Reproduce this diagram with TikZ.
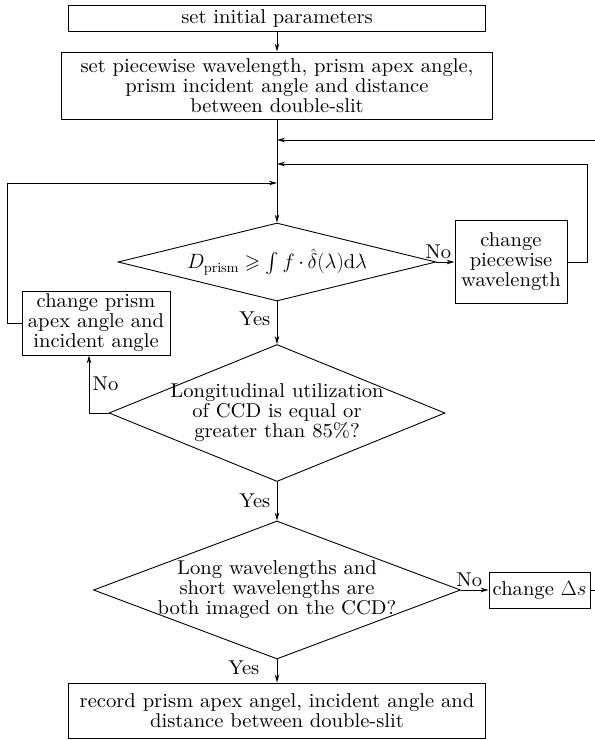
\documentclass[tikz,border=0pt]{standalone}
\usepackage{amsmath}
\usepackage{amssymb}
\usepackage{fontspec}
\setmainfont{lmroman10-regular.otf}[FakeStretch=1.03]
\usepackage{tikz}
\usetikzlibrary{arrows.meta,shapes.geometric,positioning}

\begin{document}
\begin{tikzpicture}
[
x=1pt, y=-1pt,
every node/.style={font=\fontsize{20}{20}\selectfont},
>={Stealth[length=8pt,width=4.5pt]},
proc/.style={rectangle, draw=black, line width=1pt, align=center, inner sep=2pt},
decide/.style={diamond, draw=black, line width=0.9pt, align=center, inner xsep=-25pt, inner ysep=-10pt},
flow/.style={line width=0.8pt}
]
\useasboundingbox (0,0) rectangle (595,740);
\clip (0,0) rectangle (595,740);

%Nodes
\node[proc, minimum width=417pt, minimum height=26pt] (init) at (277,18) {set initial parameters};
\node[proc, minimum width=431pt, minimum height=67pt] (setp) [below of=init, node distance=67.5pt] {set piecewise wavelength, prism apex angle,\\ prism incident angle and distance\\ between double-slit};
\node[decide, shape aspect=4.08, minimum width=318pt, minimum height=78pt] (cond1) [below of=setp, node distance=176.5pt] {$D_{\mathrm{prism}}\geqslant\int f\,{\cdot}\,\hat{\delta}(\lambda)\mathrm{d}\lambda$};
\node[proc, minimum width=112pt, minimum height=83pt] (chwave) [right of=cond1, node distance=234pt] {change\\ piecewise\\ wavelength};
\node[proc, minimum width=148pt, minimum height=64pt] (chprism) [below of=cond1, node distance=61pt, xshift=-181pt] {change prism\\ apex angle and\\ incident angle};
\node[decide, shape aspect=2.45, minimum width=336pt, minimum height=137pt] (cond2) [below of=cond1, node distance=151pt] {Longitudinal utilization\\ of CCD is equal or\\ greater than 85\%?};
\node[decide, shape aspect=2.66, minimum width=367pt, minimum height=138pt] (cond3) [below of=cond2, node distance=177pt] {Long wavelengths and\\ short wavelengths are\\ both imaged on the CCD?};
\node[proc, minimum width=101pt, minimum height=36pt] (chds) [right of=cond3, node distance=262.5pt] {change $\Delta s$};
\node[proc, minimum width=417pt, minimum height=55pt] (record) [below of=cond3, node distance=120.5pt] {record prism apex angel, incident angle and\\ distance between double-slit};

%Return points on the main line
\coordinate (back1) at (277,140);
\coordinate (back2) at (277,164);
\coordinate (back3) at (277,183);

%Lines
\draw[flow,->] (init) -- (setp);
\draw[flow,->] (setp) -- (cond1);
\path[flow,->]
(cond1) edge node[above, pos=0.1] {No} (chwave)
(cond1) edge node[left, xshift=-3pt, pos=0.4] {Yes} (cond2)
(cond2) edge node[left, xshift=-3pt] {Yes} (cond3)
(cond3) edge node[above, pos=0.3] {No} (chds)
(cond3) edge node[left, xshift=-14pt, pos=0.35] {Yes} (record);
\draw[flow,->] (cond2.west) -| node[right, pos=0.75] {No} ([xshift=-7pt]chprism.south);
\draw[flow,->] (chwave.east) -- ++(20,0) |- (back2);
\draw[flow,->] (chprism.west) -- ++(-14,0) |- (back3);
\draw[flow,->] (chds.east) -- ++(15,0) |- (back1);

\end{tikzpicture}
\end{document}
